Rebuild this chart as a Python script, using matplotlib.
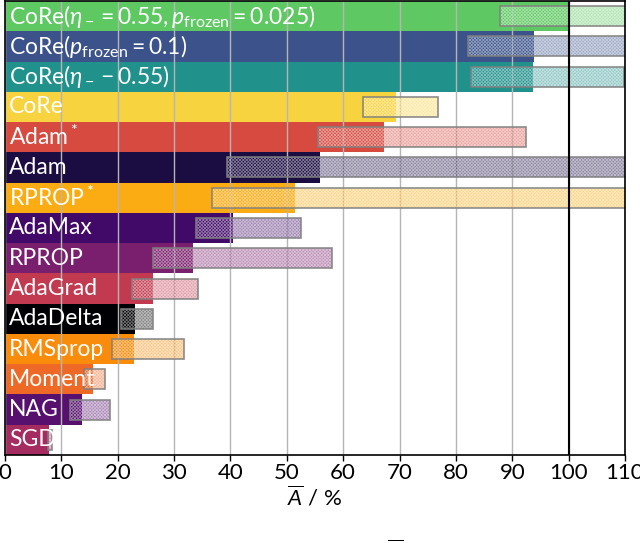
import matplotlib
matplotlib.use("Agg")
import matplotlib.pyplot as plt
import numpy as np

labels = [
    r"CoRe$(\eta_- = 0.55, p_\mathrm{frozen} = 0.025)$",
    r"CoRe$(p_\mathrm{frozen} = 0.1)$",
    r"CoRe$(\eta_- - 0.55)$",
    "CoRe",
    r"Adam$^*$",
    "Adam",
    r"RPROP$^*$",
    "AdaMax",
    "RPROP",
    "AdaGrad",
    "AdaDelta",
    "RMSprop",
    "Moment",
    "NAG",
    "SGD",
]
means = [100.0, 93.9, 93.6, 69.4, 67.3, 55.8, 51.5, 40.4, 33.3, 26.3, 23.0, 22.8, 15.6, 13.7, 7.8]
mins = [87.9, 82.2, 82.7, 63.5, 55.5, 39.3, 36.7, 33.8, 26.3, 22.6, 20.5, 19.0, 14.1, 11.6, 7.6]
maxs = [112.0, 112.0, 109.8, 76.8, 92.4, 112.0, 112.0, 52.6, 58.1, 34.3, 26.2, 31.8, 17.7, 18.7, 8.3]
colors = ["#5ec962", "#3b528b", "#21918c", "#f8d340", "#d64a3f", "#1b0c41", "#fcac13",
          "#420a68", "#7a1f6d", "#c23a50", "#000004", "#f98c0a", "#ed6925", "#57106e", "#a52c60"]
xticks = [0, 10, 20, 30, 40, 50, 60, 70, 80, 90, 100, 110]

plt.rcParams["font.family"] = ["Lato", "DejaVu Sans"]
plt.rcParams["mathtext.fontset"] = "custom"
plt.rcParams["mathtext.rm"] = "Lato"
plt.rcParams["mathtext.it"] = "Lato:italic"
plt.rcParams["mathtext.bf"] = "Lato:bold"
plt.rcParams["mathtext.sf"] = "Lato"
plt.rcParams["hatch.linewidth"] = 0.6

fig = plt.figure(figsize=(6.4, 5.43), dpi=100)
ax = fig.add_axes([5 / 640, 1 - 455 / 543, 620 / 640, 454 / 543])

y = np.arange(len(labels))
ax.barh(y, means, height=1.0, color=colors, zorder=1, linewidth=0)
widths = [mx - mn for mn, mx in zip(mins, maxs)]
ax.barh(y, widths, left=mins, height=0.66, color=colors, alpha=0.5, linewidth=0, zorder=3)
ax.barh(y, widths, left=mins, height=0.66, facecolor="none", edgecolor="white",
        hatch="x" * 10, linewidth=0, alpha=0.45, zorder=3.1)
ax.barh(y, widths, left=mins, height=0.66, facecolor="none", edgecolor="#808080",
        linewidth=1.2, alpha=0.9, zorder=3.2)

for i, lab in enumerate(labels):
    ax.text(0.7, i, lab, color="white", fontsize=16.5, va="center", ha="left", zorder=5)

ax.set_xlim(0, 110)
ax.set_ylim(len(labels) - 0.5, -0.5)
ax.set_xticks(xticks)
ax.set_xticklabels([str(t) for t in xticks], fontsize=16)
ax.set_yticks([])
ax.xaxis.grid(True, color="#b5b5b5", linewidth=1.0)
ax.set_axisbelow(False)
for l in ax.get_xgridlines():
    l.set_zorder(2)
ax.axvline(100, color="black", linewidth=1.5, zorder=4)
ax.tick_params(axis="x", length=4, width=1, pad=2)
for s in ax.spines.values():
    s.set_linewidth(1.2)
    s.set_zorder(6)
ax.set_xlabel(r"$\overline{A}$ / %", fontsize=16, labelpad=1)

fig.text(395 / 640, 3 / 543, r"$\overline{A}$", fontsize=16, ha="center", va="top")

fig.savefig("out.png", dpi=100)
